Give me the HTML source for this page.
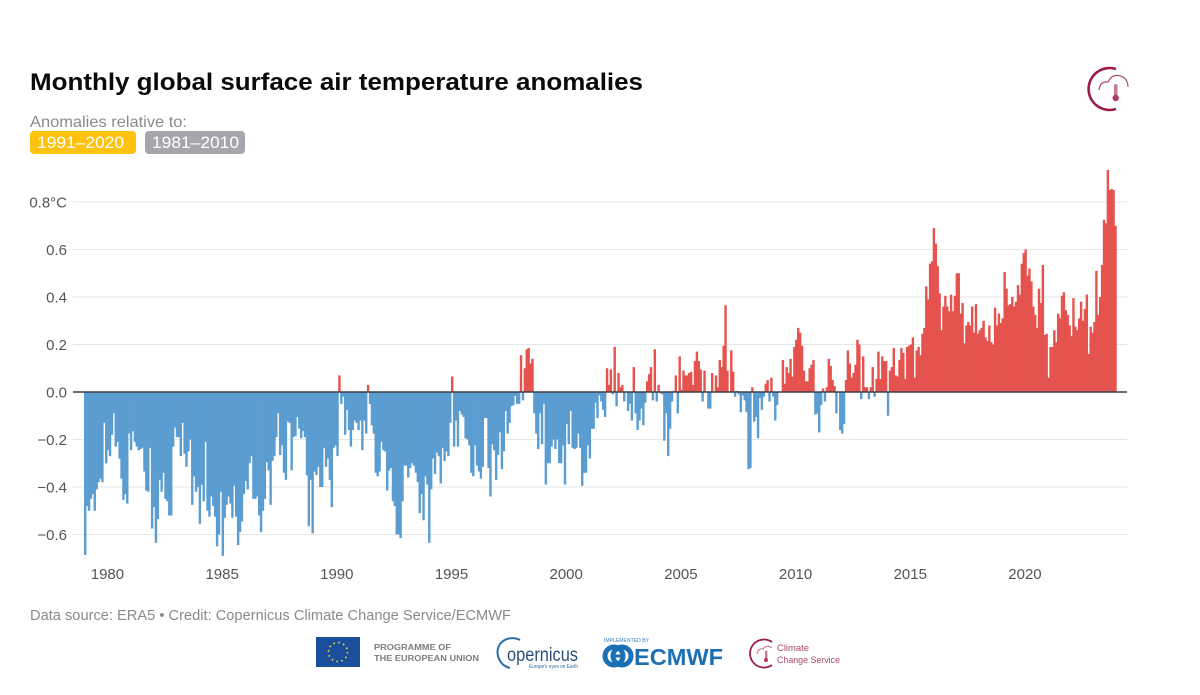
<!DOCTYPE html>
<html lang="en">
<head>
<meta charset="utf-8">
<title>Monthly global surface air temperature anomalies</title>
<style>
html,body{margin:0;padding:0;background:#fff;width:1200px;height:695px;overflow:hidden}
svg{display:block;font-family:"Liberation Sans",sans-serif;filter:blur(0.3px)}
</style>
</head>
<body>
<svg id="chart" width="1200" height="695" viewBox="0 0 1200 695" xmlns="http://www.w3.org/2000/svg">
  <text x="30" y="90" font-size="24" font-weight="700" fill="#0a0a0a" textLength="613" lengthAdjust="spacingAndGlyphs">Monthly global surface air temperature anomalies</text>
  <text x="30" y="127" font-size="16" fill="#8a8a8a" textLength="157" lengthAdjust="spacingAndGlyphs">Anomalies relative to:</text>
  <g>
    <rect x="30" y="131" width="106" height="23" rx="4" fill="#ffc20e"/>
    <text x="37" y="148" font-size="16.5" fill="#fff" textLength="87" lengthAdjust="spacingAndGlyphs">1991–2020</text>
  </g>
  <g>
    <rect x="145" y="131" width="100" height="23" rx="4" fill="#a5a7ad"/>
    <text x="152" y="148" font-size="16.5" fill="#fff" textLength="87" lengthAdjust="spacingAndGlyphs">1981–2010</text>
  </g>
  <g id="grid"></g>
  <g id="ylabels"></g>
  <g id="bars"></g>
  <g id="axis"></g>
  <g id="xlabels"></g>

  <text x="30" y="620" font-size="14.5" fill="#8a8a8a" textLength="481" lengthAdjust="spacingAndGlyphs">Data source: ERA5 • Credit: Copernicus Climate Change Service/ECMWF</text>

  <g>
    <path d="M1116 69 A21 21 0 1 0 1116 109" fill="none" stroke="#9c1c45" stroke-width="2.6"/>
    <path d="M1099 90 q1-9 9-8 q5-10 15-5 q5 3 5 10" fill="none" stroke="#a8506c" stroke-width="1.2"/>
    <rect x="1114" y="84" width="3.5" height="12" rx="1.7" fill="#c77a90"/>
    <circle cx="1115.7" cy="98" r="3.2" fill="#b23a5c"/>
  </g>

  <g>
    <rect x="316" y="637" width="44" height="30" fill="#1b4f9c"/>
    <circle cx="338" cy="652" r="9.5" fill="none" stroke="#f5d63a" stroke-width="1.6" stroke-dasharray="1.6 3.37"/>
  </g>
  <text x="374" y="650" font-size="8.6" font-weight="700" fill="#7d7d7d" textLength="77" lengthAdjust="spacingAndGlyphs">PROGRAMME OF</text>
  <text x="374" y="661" font-size="8.6" font-weight="700" fill="#7d7d7d" textLength="105" lengthAdjust="spacingAndGlyphs">THE EUROPEAN UNION</text>

  <g>
    <path d="M520 640 A16 16 0 0 0 500 644 A16 16 0 0 0 510 668" fill="none" stroke="#2c6fa8" stroke-width="2"/>
    <text x="507" y="661" font-size="19" fill="#2a4f78" textLength="71" lengthAdjust="spacingAndGlyphs">opernicus</text>
    <text x="529" y="668" font-size="5" fill="#2a6fa0" textLength="49" lengthAdjust="spacingAndGlyphs">Europe's eyes on Earth</text>
  </g>

  <g>
    <text x="604" y="642" font-size="5" fill="#3a7fc0" textLength="45" lengthAdjust="spacingAndGlyphs">IMPLEMENTED BY</text>
    <circle cx="614" cy="656" r="9" fill="none" stroke="#1a6fb5" stroke-width="5"/>
    <circle cx="622" cy="656" r="9" fill="none" stroke="#1a6fb5" stroke-width="5"/>
    <rect x="612" y="654.5" width="13" height="3" fill="#1a6fb5"/>
    <text x="634" y="665" font-size="23" font-weight="700" fill="#1a6fb5" textLength="89" lengthAdjust="spacingAndGlyphs">ECMWF</text>
  </g>

  <g>
    <path d="M772 642 A14 14 0 1 0 772 665" fill="none" stroke="#9c1c45" stroke-width="1.8"/>
    <path d="M757 654 q1-6 6-5 q4-5 9-1" fill="none" stroke="#b5627c" stroke-width="0.9"/>
    <rect x="765" y="651" width="2.4" height="8" fill="#c77a90"/>
    <circle cx="766" cy="660" r="2" fill="#b23a5c"/>
    <text x="777" y="651" font-size="9.5" fill="#a8476a" textLength="32" lengthAdjust="spacingAndGlyphs">Climate</text>
    <text x="777" y="663" font-size="9.5" fill="#a8476a" textLength="63" lengthAdjust="spacingAndGlyphs">Change Service</text>
  </g>
</svg>
<script>
const startYear = 1979;
const anomalies = [
/*1979*/ -.686,-.48,-.50,-.45,-.43,-.50,-.41,-.38,-.365,-.38,-.13,-.30,
/*1980*/ -.245,-.27,-.18,-.09,-.23,-.21,-.28,-.365,-.455,-.43,-.47,-.175,
/*1981*/ -.245,-.165,-.21,-.23,-.245,-.24,-.235,-.335,-.415,-.42,-.235,-.575,
/*1982*/ -.485,-.635,-.535,-.37,-.42,-.34,-.45,-.46,-.52,-.52,-.23,-.15,
/*1983*/ -.19,-.19,-.27,-.13,-.26,-.315,-.25,-.20,-.475,-.355,-.42,-.40,
/*1984*/ -.555,-.39,-.46,-.21,-.50,-.525,-.44,-.48,-.525,-.65,-.60,-.42,
/*1985*/ -.69,-.53,-.475,-.44,-.47,-.53,-.395,-.525,-.645,-.59,-.545,-.43,
/*1986*/ -.375,-.41,-.30,-.27,-.45,-.45,-.44,-.52,-.59,-.50,-.45,-.295,
/*1987*/ -.33,-.475,-.29,-.27,-.19,-.09,-.265,-.225,-.34,-.37,-.125,-.13,
/*1988*/ -.33,-.19,-.185,-.105,-.155,-.195,-.165,-.19,-.35,-.565,-.37,-.595,
/*1989*/ -.335,-.35,-.315,-.40,-.40,-.235,-.315,-.28,-.37,-.485,-.235,-.225,
/*1990*/ -.27,.07,-.05,-.02,-.18,-.075,-.16,-.23,-.16,-.12,-.13,-.16,
/*1991*/ -.12,-.245,-.12,-.175,.03,-.05,-.14,-.175,-.34,-.355,-.335,-.21,
/*1992*/ -.245,-.25,-.415,-.33,-.32,-.46,-.48,-.60,-.60,-.615,-.46,-.31,
/*1993*/ -.31,-.36,-.32,-.30,-.31,-.34,-.38,-.51,-.43,-.54,-.355,-.39,
/*1994*/ -.635,-.41,-.28,-.345,-.255,-.27,-.385,-.235,-.29,-.25,-.27,-.13,
/*1995*/ .065,-.23,-.12,-.23,-.08,-.095,-.105,-.195,-.20,-.225,-.34,-.355,
/*1996*/ -.225,-.31,-.335,-.365,-.315,-.11,-.11,-.32,-.44,-.22,-.245,-.37,
/*1997*/ -.265,-.17,-.325,-.25,-.08,-.175,-.13,-.06,-.055,-.017,-.05,-.05,
/*1998*/ .155,-.035,.10,.18,.185,.12,.14,-.09,-.175,-.24,-.09,-.22,
/*1999*/ -.05,-.39,-.30,-.30,-.23,-.20,-.24,-.20,-.30,-.30,-.225,-.39,
/*2000*/ -.135,-.22,-.08,-.235,-.24,-.235,-.175,-.235,-.395,-.34,-.34,-.225,
/*2001*/ -.28,-.155,-.155,-.045,-.11,-.015,-.04,-.075,-.105,.10,.03,.095,
/*2002*/ -.01,.19,-.06,.08,.02,.03,-.04,0,-.08,-.05,-.12,.105,
/*2003*/ -.09,-.16,-.12,-.07,-.14,-.045,.045,.075,.105,-.035,.18,-.04,
/*2004*/ .03,-.005,-.01,-.205,-.09,-.27,-.155,-.04,.005,.07,-.09,.15,
/*2005*/ .01,.09,.07,.07,.08,.085,.03,.13,.17,.13,.095,-.04,
/*2006*/ .09,0,-.07,-.07,.08,0,.07,.02,.135,.105,.195,.365,
/*2007*/ .09,0,.175,.085,-.02,.005,-.01,-.085,-.015,-.035,-.085,-.325,
/*2008*/ -.32,.02,-.125,-.105,-.195,-.025,-.075,-.02,.035,.05,-.04,.06,
/*2009*/ -.02,-.12,-.055,0,0,.135,.035,.105,.08,.14,.065,.19,
/*2010*/ .22,.27,.25,.195,.09,.045,.045,.10,.115,.135,-.095,-.09,
/*2011*/ -.17,-.055,.015,-.04,.02,.14,.11,.05,.025,-.09,0,-.16,
/*2012*/ -.175,-.135,.05,.175,.12,.06,.08,.115,.22,.20,-.03,.15,
/*2013*/ .02,.02,-.03,.02,.105,-.02,.055,.17,.055,.15,.13,.13,
/*2014*/ -.10,.09,.105,.185,.07,.065,.135,.185,.165,.055,.19,.195,
/*2015*/ .20,.23,.06,.175,.19,.155,.245,.27,.445,.39,.54,.55,
/*2016*/ .69,.625,.53,.415,.26,.36,.405,.36,.34,.41,.34,.405,
/*2017*/ .50,.50,.33,.375,.205,.28,.295,.28,.36,.25,.37,.245,
/*2018*/ .26,.27,.30,.23,.215,.28,.21,.20,.355,.28,.33,.29,
/*2019*/ .31,.505,.435,.365,.37,.40,.36,.38,.45,.41,.54,.585,
/*2020*/ .60,.49,.52,.465,.36,.325,.27,.435,.375,.535,.24,.245,
/*2021*/ .06,.19,.19,.26,.21,.33,.31,.405,.42,.345,.325,.28,
/*2022*/ .235,.395,.275,.26,.31,.38,.30,.35,.41,.16,.275,.25,
/*2023*/ .295,.51,.325,.40,.535,.725,.71,.935,.85,.855,.85,.70
];
const yTicks = [0.8, 0.6, 0.4, 0.2, 0, -0.2, -0.4, -0.6];
const yTickLabels = ["0.8°C", "0.6", "0.4", "0.2", "0.0", "−0.2", "−0.4", "−0.6"];
const xTickYears = [1980, 1985, 1990, 1995, 2000, 2005, 2010, 2015, 2020];

const NS = "http://www.w3.org/2000/svg";
const X0 = 84, MONTH_W = 1.9115, Y0 = 392, Y_PER_UNIT = 237.5;
const xScale = m => X0 + m * MONTH_W;
const yScale = v => Y0 - v * Y_PER_UNIT;
const make = (tag, attrs) => {
  const el = document.createElementNS(NS, tag);
  for (const k in attrs) el.setAttribute(k, attrs[k]);
  return el;
};

const grid = document.getElementById("grid");
const ylabels = document.getElementById("ylabels");
yTicks.forEach((t, i) => {
  const line = make("line", {x1: 73, x2: 1127, y1: yScale(t), y2: yScale(t), stroke: "#e6e6e6", "stroke-width": 1});
  
  
  grid.appendChild(line);
  const lab = make("text", {x: 67, y: yScale(t) + 5.5, "text-anchor": "end", "font-size": 15, fill: "#555"});
  
  
  lab.textContent = yTickLabels[i];
  ylabels.appendChild(lab);
});

const bars = document.getElementById("bars");
anomalies.forEach((v, m) => {
  const top = v >= 0 ? yScale(v) : Y0;
  const r = make("rect", {
    x: xScale(m), y: top, width: MONTH_W + 0.5,
    height: Math.abs(v) * Y_PER_UNIT,
    fill: v >= 0 ? "#e5534f" : "#5b9dd1"
  });
  
  
  bars.appendChild(r);
});

const zero = make("line", {x1: 73, x2: 1127, y1: Y0, y2: Y0, stroke: "#3f3f46", "stroke-width": 1.4});


document.getElementById("axis").appendChild(zero);

const xlabels = document.getElementById("xlabels");
xTickYears.forEach(yr => {
  const t = make("text", {x: xScale((yr - startYear) * 12) + 0.5, y: 579, "text-anchor": "middle", "font-size": 15, fill: "#555"});
  
  
  t.textContent = yr;
  xlabels.appendChild(t);
});
</script>
</body>
</html>
